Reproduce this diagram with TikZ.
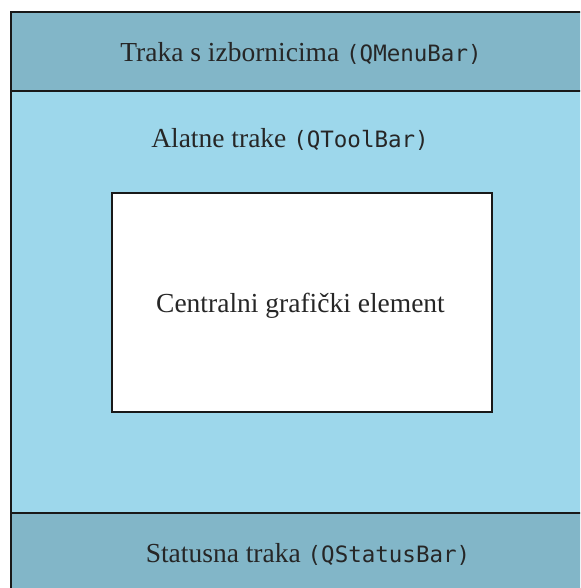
\documentclass[tikz,border=0pt]{standalone}
\usepackage{fontspec}
\setmainfont{Liberation Serif}
\setmonofont{DejaVu Sans Mono}
\definecolor{barblue}{RGB}{130,182,200}
\definecolor{midblue}{RGB}{157,215,235}
\newcommand{\qcls}[1]{{\fontsize{22.5}{26}\selectfont\ttfamily(#1)}}
\tikzset{
  lbl/.style={font=\fontsize{27.5}{32}\selectfont, text=black!85, inner sep=0pt, anchor=base},
  edge/.style={draw=black!90, line width=2pt},
}
\begin{document}
\begin{tikzpicture}[x=1pt,y=-1pt]
\useasboundingbox (0,0) rectangle (580,588);
\clip (0,0) rectangle (580,588);
\fill[white] (0,0) rectangle (580,588);
% middle area
\fill[midblue] (11,91) rectangle (620,513);
% bars
\fill[barblue] (11,12) rectangle (620,91);
\fill[barblue] (11,513) rectangle (620,620);
\draw[edge] (11,91) -- (620,91);
\draw[edge] (11,513) -- (620,513);
\draw[edge] (11,620) -- (11,12) -- (620,12);
% central widget
\node[edge, fill=white, minimum width=380pt, minimum height=219pt, inner sep=0pt] (central) at (301.5,302.5) {};
\node[lbl] (ctext) at (300.5,312) {Centralni grafički element};
\node[lbl] (menu) at (301,62) {Traka s izbornicima \qcls{QMenuBar}};
\node[lbl] (tool) at (290,148) {Alatne trake \qcls{QToolBar}};
\node[lbl] (status) at (308,562) {Statusna traka \qcls{QStatusBar}};
\end{tikzpicture}
\end{document}
